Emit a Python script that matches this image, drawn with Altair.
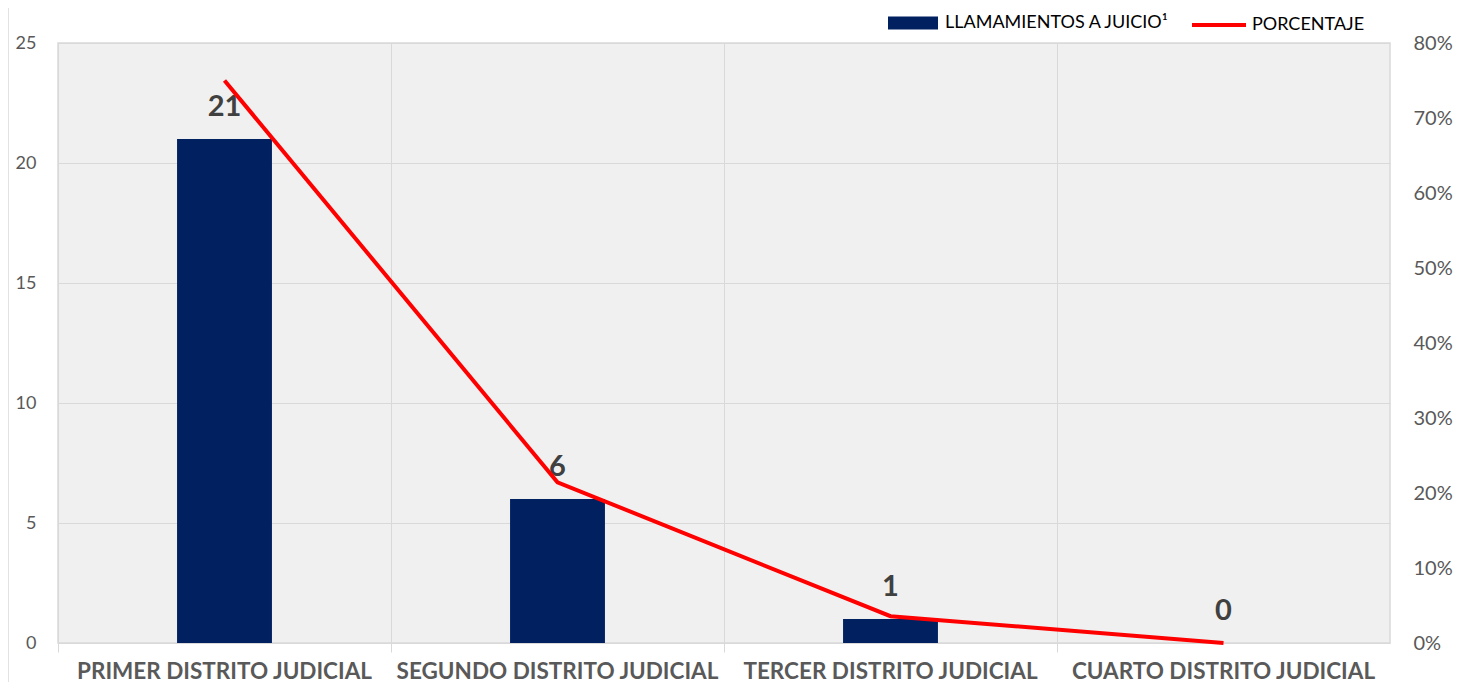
import altair as alt
import pandas as pd

categorias = ["PRIMER DISTRITO JUDICIAL", "SEGUNDO DISTRITO JUDICIAL",
              "TERCER DISTRITO JUDICIAL", "CUARTO DISTRITO JUDICIAL"]
llamamientos = [21, 6, 1, 0]
porcentaje = [0.75, 0.2143, 0.0357, 0.0]
serie_barra = "LLAMAMIENTOS A JUICIO¹"
serie_linea = "PORCENTAJE"

W, H = 1332, 600
FONT = "Lato"
GRAY = "#595959"
GRID = "#d9d9d9"

df = pd.DataFrame({
    "cat": categorias,
    "val": llamamientos,
    "pct": porcentaje,
    "sb": [serie_barra] * len(categorias),
    "sl": [serie_linea] * len(categorias),
})

one = pd.DataFrame({"a": [0]})

x_enc = alt.X(
    "cat:N", sort=categorias, title=None,
    scale=alt.Scale(paddingInner=0, paddingOuter=0),
    axis=alt.Axis(bandPosition=0, grid=True, gridColor=GRID,
                  ticks=True, tickSize=9, tickColor=GRID, domain=False,
                  labelAngle=0, labelFontWeight="bold", labelFontSize=22.5,
                  labelColor=GRAY, labelFont=FONT, labelPadding=8, labelLimit=500),
)

y_scale = alt.Scale(domain=[0, 25], nice=False)

bars = alt.Chart(df).mark_bar(width=alt.RelativeBandSize(0.285), color="#002060").encode(
    x=x_enc,
    y=alt.Y("val:Q", title=None, scale=y_scale,
            axis=alt.Axis(values=[0, 5, 10, 15, 20, 25], grid=True, gridColor=GRID,
                          ticks=False, domain=False, labelFontSize=18, labelColor=GRAY,
                          labelFont=FONT, labelPadding=22)),
    color=alt.Color("sb:N", scale=alt.Scale(domain=[serie_barra], range=["#002060"]),
                    legend=alt.Legend(title=None, orient="none", legendX=830, legendY=-45,
                                      symbolType="M-1,-0.26H1V0.26H-1Z", symbolSize=2500,
                                      symbolStrokeWidth=0, labelFontSize=18,
                                      labelColor="#000000", labelLimit=500,
                                      labelFont=FONT, labelOffset=7, padding=0)),
)

labels = alt.Chart(df).mark_text(dy=-32, fontSize=29, fontWeight="bold", color="#404040",
                                 font=FONT, baseline="middle").encode(
    x=alt.X("cat:N", sort=categorias),
    y=alt.Y("val:Q", scale=y_scale),
    text=alt.Text("val:Q"),
)

left = alt.layer(bars, labels)

line = alt.Chart(df).mark_line(strokeWidth=4, color="#ff0000").encode(
    x=alt.X("cat:N", sort=categorias),
    y=alt.Y("pct:Q", title=None,
            scale=alt.Scale(domain=[0, 0.8], nice=False),
            axis=alt.Axis(orient="right", format=".0%",
                          values=[0, 0.1, 0.2, 0.3, 0.4, 0.5, 0.6, 0.7, 0.8],
                          grid=False, ticks=False, domain=False, labelFontSize=20,
                          labelColor=GRAY, labelFont=FONT, labelPadding=23)),
    stroke=alt.Stroke("sl:N", scale=alt.Scale(domain=[serie_linea], range=["#ff0000"]),
                      legend=alt.Legend(title=None, orient="none", legendX=1132, legendY=-47,
                                        symbolType="stroke", symbolSize=2916,
                                        symbolStrokeWidth=4, labelFontSize=18,
                                        labelColor="#000000", labelFont=FONT,
                                        labelLimit=500, labelOffset=4, padding=0)),
)

border = alt.Chart(one).mark_rule(color=GRID, strokeWidth=1.5).encode(
    x=alt.value(-50), y=alt.value(-43), y2=alt.value(650)
)

chart = alt.layer(left, line, border).resolve_scale(
    y="independent"
).properties(
    width=W, height=H,
    padding={"left": 50, "top": 35, "right": 63, "bottom": 39},
    autosize=alt.AutoSizeParams(type="none"),
    background="#ffffff",
).configure_view(
    stroke=GRID, strokeWidth=1.5, fill="#f0f0f0",
)

chart.save("out.html", embed_options={"renderer": "svg", "actions": False})
